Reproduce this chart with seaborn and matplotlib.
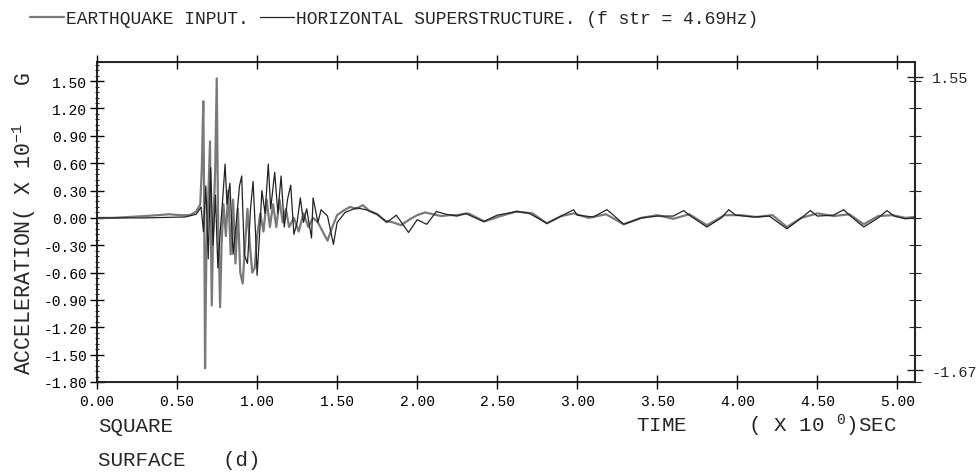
import matplotlib
matplotlib.use("Agg")
import matplotlib.pyplot as plt
import seaborn as sns
import numpy as np
import pandas as pd
from matplotlib.lines import Line2D
from matplotlib.ticker import FixedLocator, FormatStrFormatter

# ---------------- data ----------------
eq_t = [0.00, 0.10, 0.20, 0.30, 0.38, 0.45, 0.52, 0.58, 0.62, 0.645, 0.655, 0.664,
        0.669, 0.675, 0.683, 0.694, 0.706, 0.711, 0.717, 0.726, 0.738, 0.748, 0.756,
        0.769, 0.778, 0.79, 0.805, 0.82, 0.835, 0.85, 0.865, 0.88, 0.895, 0.91, 0.925,
        0.94, 0.955, 0.97, 0.985, 1.00, 1.02, 1.04, 1.06, 1.08, 1.10, 1.12, 1.14, 1.16,
        1.18, 1.20, 1.23, 1.26, 1.29, 1.32, 1.35, 1.38, 1.41, 1.44, 1.47, 1.50, 1.54,
        1.58, 1.62, 1.66, 1.70, 1.75, 1.80, 1.85, 1.90, 1.95, 2.00, 2.05, 2.10, 2.15,
        2.20, 2.25, 2.32, 2.42, 2.52, 2.62, 2.72, 2.81, 2.90, 2.98, 3.07, 3.18, 3.29,
        3.40, 3.50, 3.60, 3.70, 3.81, 3.92, 4.02, 4.12, 4.22, 4.31, 4.40, 4.50, 4.60,
        4.70, 4.79, 4.88, 4.97, 5.05, 5.11]
eq_v = [0.00, 0.00, 0.01, 0.02, 0.03, 0.04, 0.03, 0.03, 0.07, 0.15, 0.55, 1.28,
        0.30, -1.65, -0.40, 0.15, 0.84, -0.10, -0.96, -0.10, 0.50, 1.53, 0.05,
        -0.98, -0.30, 0.15, -0.20, 0.30, -0.40, 0.20, -0.50, 0.10, -0.60, -0.72, -0.30,
        0.10, -0.30, -0.60, -0.55, -0.20, 0.05, -0.15, 0.20, -0.10, 0.15, -0.10, 0.20, -0.05,
        0.10, -0.10, 0.00, -0.15, 0.05, -0.10, 0.00, -0.05, -0.15, -0.25, -0.10, 0.03, 0.08,
        0.12, 0.10, 0.14, 0.08, 0.04, -0.03, -0.05, -0.08, -0.02, 0.03, 0.06, 0.04, 0.02,
        0.03, 0.03, 0.05, -0.04, 0.02, 0.07, 0.05, -0.06, 0.02, 0.05, 0.00, 0.04, -0.07,
        0.00, 0.03, -0.01, 0.04, -0.08, 0.03, 0.03, 0.01, 0.03, -0.10, 0.00, 0.05, 0.02,
        0.04, -0.07, 0.02, 0.03, 0.00, 0.01]

st_t = [0.00, 0.30, 0.55, 0.62, 0.65, 0.665, 0.68, 0.695, 0.71, 0.725, 0.74, 0.755,
        0.77, 0.785, 0.80, 0.812, 0.83, 0.85, 0.87, 0.89, 0.904, 0.92, 0.94, 0.96,
        0.975, 0.99, 1.00, 1.015, 1.03, 1.05, 1.07, 1.085, 1.11, 1.13, 1.15, 1.17,
        1.19, 1.21, 1.23, 1.25, 1.27, 1.29, 1.31, 1.34, 1.35, 1.38, 1.40, 1.44, 1.477,
        1.50, 1.55, 1.62, 1.68, 1.75, 1.81, 1.87, 1.946, 2.00, 2.06, 2.12, 2.18, 2.25,
        2.30, 2.415, 2.50, 2.623, 2.70, 2.81, 2.90, 2.977, 3.00, 3.10, 3.185, 3.22,
        3.29, 3.40, 3.50, 3.60, 3.665, 3.70, 3.81, 3.90, 3.946, 3.99, 4.10, 4.20, 4.31,
        4.40, 4.456, 4.50, 4.60, 4.665, 4.70, 4.79, 4.88, 4.935, 4.98, 5.05, 5.11]
st_v = [0.00, 0.00, 0.01, 0.04, 0.12, -0.15, 0.35, -0.45, 0.55, -0.30, 0.25, -0.55,
        -0.15, 0.20, 0.59, 0.15, 0.38, -0.40, -0.05, 0.35, 0.46, -0.40, -0.50, 0.12,
        0.40, -0.15, -0.63, -0.20, 0.30, 0.05, 0.59, 0.10, 0.50, 0.05, 0.46, -0.10,
        0.20, 0.36, -0.18, -0.05, 0.22, -0.05, 0.10, -0.22, 0.22, -0.05, 0.09, 0.02, -0.29,
        -0.05, 0.06, 0.11, 0.09, 0.04, -0.05, 0.03, -0.16, -0.02, -0.07, 0.07, 0.04, 0.02,
        0.05, -0.04, 0.03, 0.07, 0.05, -0.06, 0.02, 0.09, 0.03, 0.01, 0.09, 0.04,
        -0.07, 0.00, 0.02, 0.02, 0.08, 0.03, -0.10, 0.00, 0.09, 0.03, 0.01, 0.02, -0.12,
        0.00, 0.08, 0.02, 0.03, 0.09, 0.03, -0.10, 0.00, 0.08, 0.02, -0.01, 0.00]

x_ticks = [0.0, 0.5, 1.0, 1.5, 2.0, 2.5, 3.0, 3.5, 4.0, 4.5, 5.0]
y_ticks = [-1.80, -1.50, -1.20, -0.90, -0.60, -0.30, 0.00, 0.30, 0.60, 0.90, 1.20, 1.50]
peak_values = [-1.67, 1.55]

label_eq = "EARTHQUAKE INPUT."
label_st = "HORIZONTAL SUPERSTRUCTURE. (f str = 4.69Hz)"

# ---------------- style ----------------
sns.set_style("ticks")
FONT = ["Liberation Mono", "DejaVu Sans Mono"]
plt.rcParams["font.family"] = FONT
plt.rcParams["mathtext.default"] = "regular"

EQ_COLOR = "#7a7a7a"
ST_COLOR = "#222222"

fig = plt.figure(figsize=(9.79, 4.77), dpi=100)
ax = fig.add_axes([97 / 979, 1 - 383 / 477, (915 - 97) / 979, (383 - 63) / 477])

df_eq = pd.DataFrame({"t": eq_t, "a": eq_v})
df_st = pd.DataFrame({"t": st_t, "a": st_v})
sns.lineplot(data=df_eq, x="t", y="a", ax=ax, color=EQ_COLOR, lw=1.6,
             estimator=None, sort=False)
sns.lineplot(data=df_st, x="t", y="a", ax=ax, color=ST_COLOR, lw=0.9,
             estimator=None, sort=False)

ax.set_xlim(0, 5.11)
ax.set_ylim(-1.80, 1.71)

for s in ax.spines.values():
    s.set_visible(True)
    s.set_linewidth(1.2)
    s.set_color("black")

ax.xaxis.set_major_locator(FixedLocator(x_ticks))
ax.yaxis.set_major_locator(FixedLocator(y_ticks))
ax.xaxis.set_major_formatter(FormatStrFormatter("%.2f"))
ax.yaxis.set_major_formatter(FormatStrFormatter("%.2f"))
ax.yaxis.set_minor_locator(FixedLocator(list(np.arange(-1.80, 1.71, 0.06))))
ax.tick_params(axis="both", which="major", direction="inout", length=10, width=1.0,
               labelsize=10.5, colors="black", top=True, right=False)
ax.tick_params(axis="y", which="major", pad=2)
ax.tick_params(axis="x", which="major", pad=4, labeltop=False)
ax.tick_params(axis="y", which="minor", direction="inout", length=3, width=0.7,
               left=True, right=False)

ax.set_xlabel("")
ax.set_ylabel("ACCELERATION( X 10$^{-1}$   G", fontsize=15.5, labelpad=4)

# right axis with peak marks
ax2 = ax.twinx()
ax2.set_ylim(ax.get_ylim())
ax2.yaxis.set_major_locator(FixedLocator(peak_values))
ax2.yaxis.set_major_formatter(FormatStrFormatter("%.2f"))
ax2.yaxis.set_minor_locator(FixedLocator(y_ticks))
ax2.tick_params(axis="y", which="major", direction="inout", length=12, width=1.0,
                labelsize=11, pad=6)
ax2.tick_params(axis="y", which="minor", direction="inout", length=8, width=0.8)
ax2.spines["right"].set_linewidth(1.5)

# axis texts
ax.text(0.978, -0.133, "TIME     ( X 10 $^{0}$)SEC", transform=ax.transAxes,
        ha="right", va="center", fontsize=15)
fig.text(98 / 979, 1 - 427 / 477, "SQUARE", ha="left", va="center", fontsize=15)
fig.text(98 / 979, 1 - 461 / 477, "SURFACE   (d)", ha="left", va="center", fontsize=15)

# legend
handles = [Line2D([], [], color=EQ_COLOR, lw=1.6), Line2D([], [], color=ST_COLOR, lw=0.9)]
fig.legend(handles, [label_eq, label_st], loc="center left",
           bbox_to_anchor=(30 / 979, 1 - 20 / 477), ncol=2, frameon=False,
           borderpad=0, borderaxespad=0,
           handlelength=1.9, handletextpad=0.1, columnspacing=0.6,
           prop={"family": FONT, "size": 13})

fig.savefig("out.png", dpi=100)
